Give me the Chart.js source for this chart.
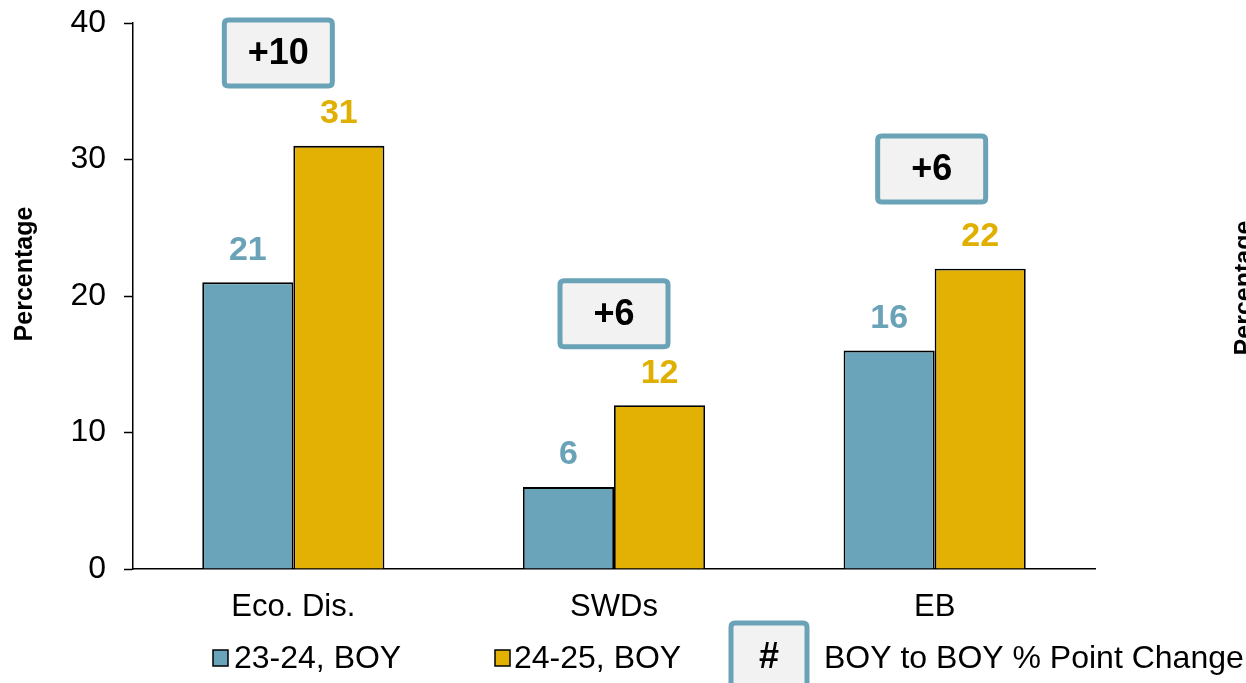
<!DOCTYPE html>
<html><head><meta charset="utf-8">
<script src="https://cdn.jsdelivr.net/npm/chart.js@4"></script>
<style>html,body{margin:0;padding:0;background:#fff;}#wrap{width:1246px;height:683px;position:relative;}</style>
</head><body><div id="wrap"><canvas id="c"></canvas></div>
<script>
const categories = ["Eco. Dis.", "SWDs", "EB"];
const seriesNames = ["23-24, BOY", "24-25, BOY"];
const values2324 = [21, 6, 16];
const values2425 = [31, 12, 22];
const changeLabels = ["+10", "+6", "+6"];
const changeBoxLevel = [37.8, 18.7, 29.3];
const yTicks = [0, 10, 20, 30, 40];
const yTitle = "Percentage";
const legendChangeLabel = "BOY to BOY % Point Change";

const BLUE = "#69a4ba", GOLD = "#e2b104", LBLUE = "#6aa3b8", LGOLD = "#e0b000";
const FONT = "'Liberation Sans', Arial, sans-serif";
const boxShift = [-15, 0, -3];

function roundRect(ctx, x, y, w, h, r) {
  ctx.beginPath();
  ctx.moveTo(x + r, y); ctx.lineTo(x + w - r, y); ctx.quadraticCurveTo(x + w, y, x + w, y + r);
  ctx.lineTo(x + w, y + h - r); ctx.quadraticCurveTo(x + w, y + h, x + w - r, y + h);
  ctx.lineTo(x + r, y + h); ctx.quadraticCurveTo(x, y + h, x, y + h - r);
  ctx.lineTo(x, y + r); ctx.quadraticCurveTo(x, y, x + r, y); ctx.closePath();
}
function changeBox(ctx, cx, cy, w, h, text, size) {
  roundRect(ctx, cx - w / 2, cy - h / 2, w, h, 4);
  ctx.fillStyle = "#f2f2f2"; ctx.fill();
  ctx.lineWidth = 5; ctx.strokeStyle = LBLUE; ctx.stroke();
  ctx.fillStyle = "#000"; ctx.font = "bold " + size + "px " + FONT;
  ctx.textAlign = "center"; ctx.textBaseline = "middle";
  ctx.fillText(text, cx, cy + 1);
}
function vText(ctx, text, x, y) {
  ctx.save();
  ctx.translate(x, y); ctx.rotate(-Math.PI / 2);
  ctx.font = "bold 25px " + FONT; ctx.textAlign = "center"; ctx.textBaseline = "middle";
  ctx.fillStyle = "#000"; ctx.fillText(text, 0, 0);
  ctx.restore();
}

const overlay = {
  id: "overlay",
  afterDatasetsDraw(chart) {
    const ctx = chart.ctx, xs = chart.scales.x, ys = chart.scales.y;
    ctx.save();
    chart.data.datasets.forEach((ds, di) => {
      const meta = chart.getDatasetMeta(di);
      meta.data.forEach((bar, i) => {
        ctx.fillStyle = di === 0 ? LBLUE : LGOLD;
        ctx.font = "bold 34px " + FONT;
        ctx.textAlign = "center"; ctx.textBaseline = "middle";
        ctx.fillText(String(ds.data[i]), bar.x, bar.y - 32);
      });
    });
    categories.forEach((c, i) => {
      const cx = xs.getPixelForValue(i) + boxShift[i];
      const cy = ys.getPixelForValue(changeBoxLevel[i]);
      changeBox(ctx, cx, cy, 108, 66, changeLabels[i], 36);
    });
    const ly = 658;
    ctx.font = "32px " + FONT; ctx.textAlign = "left"; ctx.textBaseline = "middle";
    [[213, 234, BLUE, seriesNames[0]], [495, 514, GOLD, seriesNames[1]]].forEach(([sx, tx, col, t]) => {
      ctx.fillStyle = col; ctx.fillRect(sx, ly - 8, 15, 16);
      ctx.lineWidth = 1.5; ctx.strokeStyle = "#000"; ctx.strokeRect(sx, ly - 8, 15, 16);
      ctx.fillStyle = "#000"; ctx.fillText(t, tx, ly + 1);
    });
    changeBox(ctx, 769, 657, 76, 68, "#", 36);
    ctx.font = "32px " + FONT; ctx.textAlign = "left"; ctx.fillStyle = "#000";
    ctx.fillText(legendChangeLabel, 824, ly + 1);
    vText(ctx, yTitle, 25, 274);
    vText(ctx, yTitle, 1245, 288);
    ctx.restore();
  }
};

new Chart(document.getElementById("c"), {
  type: "bar",
  data: {
    labels: categories,
    datasets: [
      { label: seriesNames[0], data: values2324, backgroundColor: BLUE, borderColor: "#000", borderWidth: 1.8 },
      { label: seriesNames[1], data: values2425, backgroundColor: GOLD, borderColor: "#000", borderWidth: 1.8 }
    ]
  },
  options: {
    responsive: true, maintainAspectRatio: false, animation: false,
    layout: { padding: { left: 12, right: 151, top: 23, bottom: 0 } },
    datasets: { bar: { categoryPercentage: 0.568, barPercentage: 1 } },
    plugins: { legend: { display: false }, tooltip: { enabled: false } },
    scales: {
      x: {
        grid: { display: false, drawTicks: false },
        border: { color: "#000", width: 1.5 },
        ticks: { color: "#000", font: { family: FONT, size: 31 }, padding: 20 },
        afterFit(s) { s.height = 114; s.paddingLeft = 0; s.paddingRight = 0; }
      },
      y: {
        min: 0, max: 40,
        afterBuildTicks(s) { s.ticks = yTicks.map(v => ({ value: v })); },
        grid: { drawOnChartArea: false, drawTicks: true, tickLength: 9, color: "#000", tickWidth: 1.5 },
        border: { color: "#000", width: 1.5 },
        ticks: { color: "#000", font: { family: FONT, size: 32 }, padding: 18 },
        afterFit(s) { s.width = 121; s.paddingTop = 0; s.paddingBottom = 0; }
      }
    }
  },
  plugins: [overlay]
});
</script></body></html>
